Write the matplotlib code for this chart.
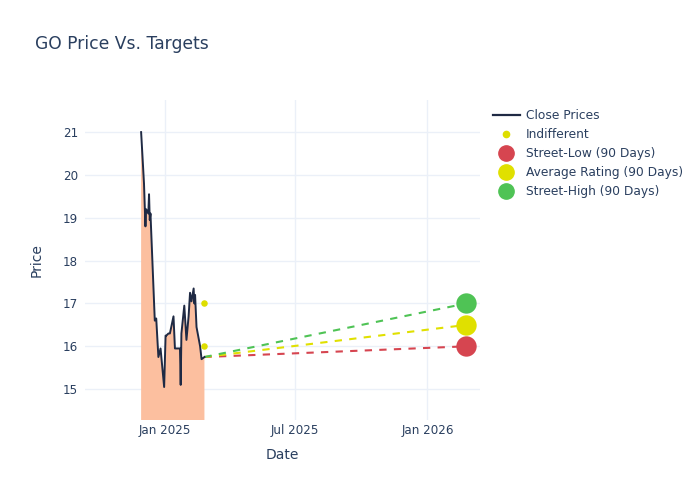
import pandas as pd
import matplotlib
matplotlib.use("Agg")
import matplotlib.pyplot as plt
import matplotlib.dates as mdates
from matplotlib.lines import Line2D

plt.rcParams['font.family'] = ['DejaVu Sans']

# close prices
dates = pd.to_datetime([
    "2024-11-29", "2024-12-03", "2024-12-05", "2024-12-06", "2024-12-09",
    "2024-12-10", "2024-12-11", "2024-12-12", "2024-12-18", "2024-12-20",
    "2024-12-23", "2024-12-26", "2024-12-31", "2025-01-02", "2025-01-03",
    "2025-01-06", "2025-01-08", "2025-01-13", "2025-01-15", "2025-01-22",
    "2025-01-23", "2025-01-24", "2025-01-28", "2025-01-31", "2025-02-03",
    "2025-02-05", "2025-02-07", "2025-02-10", "2025-02-11", "2025-02-12",
    "2025-02-14", "2025-02-19", "2025-02-21", "2025-02-25",
])
close = [
    21.0, 19.8, 18.8, 19.2, 19.1,
    19.55, 18.95, 19.1, 16.6, 16.65,
    15.75, 15.95, 15.05, 16.25, 16.25,
    16.3, 16.3, 16.7, 15.95, 15.95,
    15.1, 16.3, 16.95, 16.15, 16.7,
    17.25, 17.05, 17.35, 17.0, 17.2,
    16.45, 16.0, 15.7, 15.75,
]

rating_date = pd.Timestamp("2025-02-25")
indifferent = [17.0, 16.0]

target_date = pd.Timestamp("2026-02-24")
target_names = ["Street-Low (90 Days)", "Average Rating (90 Days)", "Street-High (90 Days)"]
target_values = [16.0, 16.5, 17.0]
target_colors = ["#d64550", "#e0e000", "#4fc355"]

text_color = "#2a3f5f"
grid_color = "#ebf0f8"

fig = plt.figure(figsize=(7, 5), dpi=100)
ax = fig.add_axes([85 / 700, 80 / 500, 395 / 700, 320 / 500])

# price area + line
ax.fill_between(dates, close, 0, color="#fcbf9f", linewidth=0)
ax.plot(dates, close, color="#1f2a44", linewidth=1.4, zorder=3)

# dashed projections to the targets
for val, col in zip(target_values, target_colors):
    ax.plot([dates[-1], target_date], [close[-1], val], color=col,
            linestyle=(0, (3.5, 3.5)), linewidth=1.5, zorder=2)

ax.scatter([rating_date] * len(indifferent), indifferent, s=22,
           color="#dede00", zorder=4, linewidths=0)
for val, col in zip(target_values, target_colors):
    ax.scatter([target_date], [val], s=215, color=col, zorder=5, linewidths=0)

ax.set_xlim(pd.Timestamp("2024-09-12"), pd.Timestamp("2026-03-15"))
ax.set_ylim(14.28, 21.75)
ax.set_yticks(range(15, 22))
ax.xaxis.set_major_locator(mdates.MonthLocator(bymonth=[1, 7]))
ax.xaxis.set_major_formatter(mdates.DateFormatter("%b %Y"))

ax.grid(True, color=grid_color, linewidth=1)
ax.set_axisbelow(True)
for s in ax.spines.values():
    s.set_visible(False)
ax.tick_params(length=0, labelsize=8.6, colors=text_color)
ax.tick_params(axis="x", pad=3)
ax.tick_params(axis="y", pad=5)
ax.set_xlabel("Date", fontsize=10, color=text_color, labelpad=8)
ax.set_ylabel("Price", fontsize=10, color=text_color, labelpad=14)

fig.text(35 / 700, 1 - 44 / 500, "GO Price Vs. Targets", fontsize=12.3,
         color=text_color, va="center")

handles = [
    Line2D([], [], color="#1f2a44", linewidth=1.6),
    Line2D([], [], marker="o", linestyle="", color="#dede00", markersize=4.5),
]
for col in target_colors:
    handles.append(Line2D([], [], marker="o", linestyle="", color=col, markersize=11))
labels = ["Close Prices", "Indifferent"] + target_names
fig.legend(handles, labels, loc="upper left", bbox_to_anchor=(493 / 700, 1 - 109 / 500),
           frameon=False, fontsize=8.8, labelcolor=text_color, handlelength=2.2,
           handletextpad=0.5, labelspacing=0.5, borderaxespad=0, borderpad=0)

fig.savefig("out.png", dpi=100)
